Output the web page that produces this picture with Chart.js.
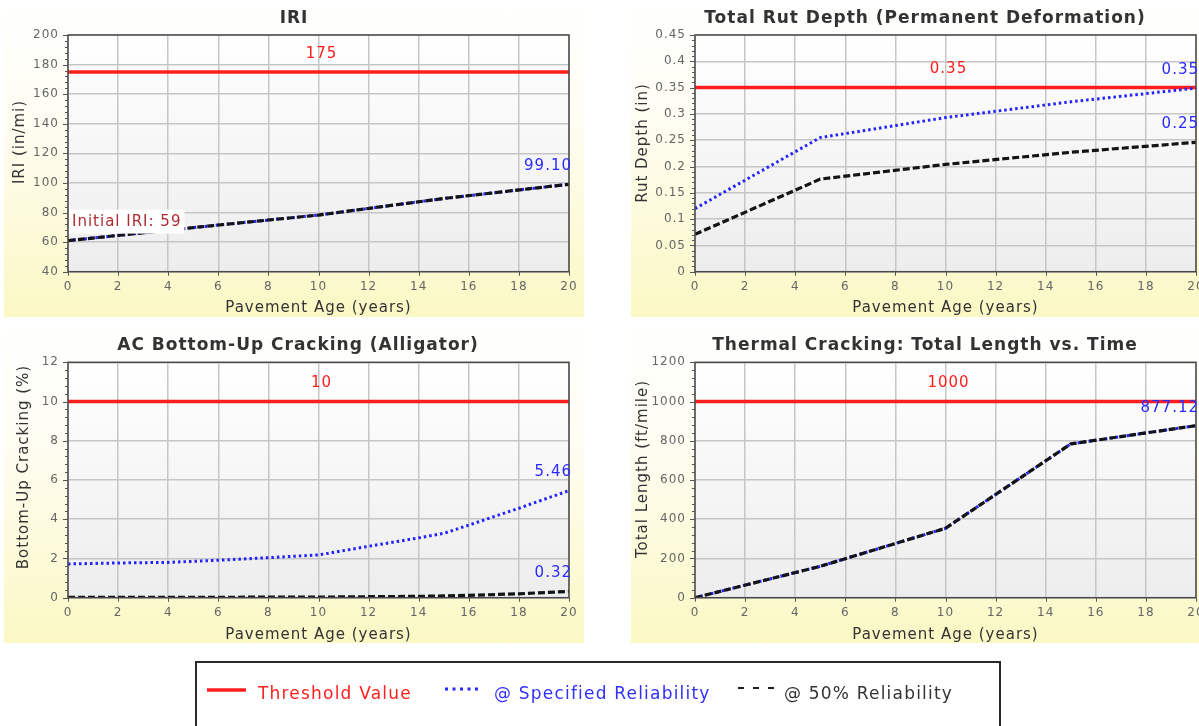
<!DOCTYPE html>
<html>
<head>
<meta charset="utf-8">
<script src="https://cdn.jsdelivr.net/npm/chart.js@4.4.1/dist/chart.umd.min.js"></script>
<style>
  html, body { margin: 0; padding: 0; background: #fff; }
  #page { position: relative; width: 1199px; height: 726px; overflow: hidden; background: #fff;
          font-family: 'DejaVu Sans', sans-serif; }
  .panel { position: absolute;
           background: linear-gradient(180deg, #ffffff 0%, #fefdf2 38%, #fbf8c4 100%); }
  canvas { position: absolute; }
  #legendBox { position: absolute; left: 195px; top: 661px; width: 806px; height: 80px;
               border: 2px solid #2a2a2a; background: #fff; box-sizing: border-box; }
  .lg { position: absolute; top: 682px; font-size: 17px; line-height: 22px;
        letter-spacing: 1.2px; white-space: nowrap; }
  #keys { position: absolute; left: 0; top: 0; }
</style>
</head>
<body>
<div id="page">
  <div class="panel" style="left:4px;top:0;width:580px;height:317px"></div>
  <div class="panel" style="left:631px;top:0;width:568px;height:317px"></div>
  <div class="panel" style="left:4px;top:322px;width:580px;height:321px"></div>
  <div class="panel" style="left:631px;top:322px;width:568px;height:321px"></div>

  <canvas id="cIri" width="595" height="320" style="left:0;top:0"></canvas>
  <canvas id="cRut" width="599" height="320" style="left:600px;top:0"></canvas>
  <canvas id="cAc" width="595" height="330" style="left:0;top:320px"></canvas>
  <canvas id="cTc" width="599" height="330" style="left:600px;top:320px"></canvas>

  <div id="legendBox"></div>
  <svg id="keys" width="1199" height="726">
    <line x1="207" y1="690" x2="246" y2="690" stroke="#ff1e1e" stroke-width="3.5"/>
    <line x1="445" y1="689" x2="481" y2="689" stroke="#2626ff" stroke-width="3" stroke-dasharray="3 4.5"/>
    <line x1="738" y1="688" x2="774" y2="688" stroke="#222" stroke-width="2" stroke-dasharray="6 9"/>
  </svg>
  <div class="lg" style="left:258px;color:#ff2020">Threshold Value</div>
  <div class="lg" style="left:494px;color:#3030ff">@ Specified Reliability</div>
  <div class="lg" style="left:784px;color:#333">@ 50% Reliability</div>
</div>

<script>
// ---- shared pavement-age axis ----
const ageTicks = [0, 2, 4, 6, 8, 10, 12, 14, 16, 18, 20];
const ageTickLabels = ['0', '2', '4', '6', '8', '10', '12', '14', '16', '18', '20'];

// ---- IRI ----
const iriYears = [0, 5, 10, 15, 20];
const iriSpecified = [61.0, 69.8, 78.3, 89.5, 99.10];
const iri50 = [61.0, 69.8, 78.3, 89.5, 99.10];
const iriThreshold = 175;
const iriInitial = 59;
const iriTicks = [40, 60, 80, 100, 120, 140, 160, 180, 200];
const iriTickLabels = ['40', '60', '80', '100', '120', '140', '160', '180', '200'];

// ---- Total rut depth ----
const rutYears = [0, 5, 10, 15, 20];
const rutSpecified = [0.120, 0.255, 0.293, 0.323, 0.349];
const rut50 = [0.071, 0.176, 0.204, 0.227, 0.246];
const rutThreshold = 0.35;
const rutTicks = [0, 0.05, 0.1, 0.15, 0.2, 0.25, 0.3, 0.35, 0.4, 0.45];
const rutTickLabels = ['0', '0.05', '0.1', '0.15', '0.2', '0.25', '0.3', '0.35', '0.4', '0.45'];

// ---- AC bottom-up (alligator) cracking ----
const acYears = [0, 2, 4, 6, 8, 10, 12, 14, 15, 16, 18, 20];
const acSpecified = [1.72, 1.77, 1.80, 1.91, 2.04, 2.18, 2.62, 3.05, 3.28, 3.70, 4.56, 5.46];
const ac50 = [0.02, 0.02, 0.02, 0.02, 0.03, 0.03, 0.05, 0.07, 0.09, 0.12, 0.20, 0.32];
const acThreshold = 10;
const acTicks = [0, 2, 4, 6, 8, 10, 12];
const acTickLabels = ['0', '2', '4', '6', '8', '10', '12'];

// ---- Thermal cracking total length ----
const tcYears = [0, 5, 10, 15, 20];
const tcSpecified = [0, 160, 354, 784, 877.12];
const tc50 = [0, 160, 354, 784, 877.12];
const tcThreshold = 1000;
const tcTicks = [0, 200, 400, 600, 800, 1000, 1200];
const tcTickLabels = ['0', '200', '400', '600', '800', '1000', '1200'];

Chart.defaults.font.family = "'DejaVu Sans', sans-serif";

function pairs(xs, ys) { return xs.map((x, i) => ({ x: x, y: ys[i] })); }

const LABEL_BLUE = '#2a2aff';
const LABEL_RED = '#ff1e1e';

// Panel decorations: plot background, frame, minor ticks, value labels, titles
function panelPlugin(spec) {
  return {
    id: 'panelDecor',
    beforeDraw(chart) {
      const ctx = chart.ctx, a = chart.chartArea;
      ctx.letterSpacing = '1px';
      const g = ctx.createLinearGradient(0, a.top, 0, a.bottom);
      g.addColorStop(0, '#ffffff');
      g.addColorStop(1, '#ededed');
      ctx.save();
      ctx.fillStyle = g;
      ctx.fillRect(a.left, a.top, a.right - a.left, a.bottom - a.top);
      ctx.restore();
    },
    afterDatasetsDraw(chart) {
      const ctx = chart.ctx, a = chart.chartArea;
      const xs = chart.scales.x, ys = chart.scales.y;
      ctx.save();
      // frame
      ctx.strokeStyle = '#4a4a4a';
      ctx.lineWidth = 1.5;
      ctx.strokeRect(a.left, a.top, a.right - a.left, a.bottom - a.top);
      // y ticks: five subdivisions per major step
      const t = spec.yTicks;
      const minor = (t[1] - t[0]) / 5;
      const n = Math.round((t[t.length - 1] - t[0]) / minor);
      ctx.lineWidth = 1;
      ctx.strokeStyle = '#555';
      ctx.beginPath();
      for (let k = 0; k <= n; k++) {
        const py = Math.round(ys.getPixelForValue(t[0] + k * minor)) + 0.5;
        ctx.moveTo(a.left - (k % 5 === 0 ? 5 : 3), py);
        ctx.lineTo(a.left, py);
      }
      ageTicks.forEach(v => {
        const px = Math.round(xs.getPixelForValue(v)) + 0.5;
        ctx.moveTo(px, a.bottom);
        ctx.lineTo(px, a.bottom + 4);
      });
      ctx.stroke();

      // value labels
      ctx.letterSpacing = '1px';
      ctx.font = "15px 'DejaVu Sans', sans-serif";
      ctx.textBaseline = 'middle';
      spec.labels.forEach(l => {
        const py = ys.getPixelForValue(l.y) - 18;
        ctx.fillStyle = l.color;
        if (l.atEnd) {
          ctx.textAlign = 'right';
          ctx.fillText(l.text, a.right + 3, py);
        } else {
          ctx.textAlign = 'center';
          ctx.fillText(l.text, xs.getPixelForValue(l.x) + 3, py);
        }
      });

      // initial value note on a white box
      if (spec.note) {
        const nt = spec.note;
        const left = xs.getPixelForValue(0) + 1;
        const cy = ys.getPixelForValue(nt.y) - 22;
        const w = ctx.measureText(nt.text).width;
        ctx.fillStyle = '#ffffff';
        ctx.fillRect(left, cy - 12, w + 6, 24);
        ctx.textAlign = 'left';
        ctx.fillStyle = '#b02a30';
        ctx.fillText(nt.text, left + 3, cy + 1);
      }
      ctx.restore();
    },
    afterDraw(chart) {
      const ctx = chart.ctx;
      ctx.save();
      ctx.letterSpacing = '1px';
      ctx.textAlign = 'center';
      ctx.textBaseline = 'middle';
      ctx.fillStyle = '#333';
      ctx.font = "bold 17px 'DejaVu Sans', sans-serif";
      ctx.fillText(spec.title, spec.titleAt[0], spec.titleAt[1]);
      ctx.font = "15px 'DejaVu Sans', sans-serif";
      ctx.translate(spec.yTitleAt[0], spec.yTitleAt[1]);
      ctx.rotate(-Math.PI / 2);
      ctx.fillText(spec.yTitle, 0, 0);
      ctx.restore();
    }
  };
}

function makeChart(canvasId, spec) {
  const cv = document.getElementById(canvasId);
  const W = cv.width, H = cv.height;
  const a = spec.area;
  const yt = spec.yTicks;
  return new Chart(cv, {
    type: 'line',
    data: {
      datasets: [
        { label: '@ 50% Reliability', data: pairs(spec.years, spec.fifty),
          borderColor: '#141414', borderWidth: 3.2, borderDash: [7, 3] },
        { label: '@ Specified Reliability', data: pairs(spec.years, spec.specified),
          borderColor: '#2222ff', borderWidth: 3, borderDash: [2.5, 3] },
        { label: 'Threshold Value', data: pairs([0, 20], [spec.threshold, spec.threshold]),
          borderColor: '#ff1e1e', borderWidth: 3.5 }
      ]
    },
    options: {
      responsive: false,
      animation: false,
      devicePixelRatio: 1,
      events: [],
      layout: { padding: { left: 0, top: a.top, right: W - a.right, bottom: 0 } },
      elements: { point: { radius: 0 }, line: { tension: 0, fill: false } },
      plugins: { legend: { display: false }, tooltip: { enabled: false }, title: { display: false } },
      scales: {
        x: {
          type: 'linear', min: 0, max: 20,
          afterBuildTicks: s => { s.ticks = ageTicks.map(v => ({ value: v })); },
          afterFit: s => { s.height = H - a.bottom; s.paddingLeft = 0; s.paddingRight = 0; },
          ticks: { autoSkip: false, maxRotation: 0, padding: 8, color: '#666',
                   font: { size: 12 }, callback: (v, i) => ageTickLabels[i] },
          grid: { color: '#c6c6c6', lineWidth: 1.5, drawTicks: false },
          border: { display: false },
          title: { display: true, text: 'Pavement Age (years)', color: '#333',
                   font: { size: 15 }, padding: { top: 0, bottom: spec.xTitlePad } }
        },
        y: {
          type: 'linear', min: yt[0], max: yt[yt.length - 1],
          afterBuildTicks: s => { s.ticks = yt.map(v => ({ value: v })); },
          afterFit: s => { s.width = a.left; s.paddingTop = 0; s.paddingBottom = 0; },
          ticks: { padding: 9, color: '#666', font: { size: 12 },
                   callback: (v, i) => spec.yTickLabels[i] },
          grid: { color: '#c6c6c6', lineWidth: 1.5, drawTicks: false },
          border: { display: false }
        }
      }
    },
    plugins: [panelPlugin(spec)]
  });
}

makeChart('cIri', {
  title: 'IRI', titleAt: [294, 18.5],
  yTitle: 'IRI (in/mi)', yTitleAt: [20, 142],
  area: { left: 68, right: 569, top: 35, bottom: 271.7 }, xTitlePad: 3,
  years: iriYears, specified: iriSpecified, fifty: iri50, threshold: iriThreshold,
  yTicks: iriTicks, yTickLabels: iriTickLabels,
  labels: [
    { text: String(iriThreshold), x: 10, y: iriThreshold, color: LABEL_RED },
    { text: iriSpecified[iriSpecified.length - 1].toFixed(2), atEnd: true,
      y: iriSpecified[iriSpecified.length - 1], color: LABEL_BLUE }
  ],
  note: { text: 'Initial IRI: ' + iriInitial, y: iriInitial }
});

makeChart('cRut', {
  title: 'Total Rut Depth (Permanent Deformation)', titleAt: [325, 18.5],
  yTitle: 'Rut Depth (in)', yTitleAt: [43, 143],
  area: { left: 95, right: 596, top: 35, bottom: 271.7 }, xTitlePad: 3,
  years: rutYears, specified: rutSpecified, fifty: rut50, threshold: rutThreshold,
  yTicks: rutTicks, yTickLabels: rutTickLabels,
  labels: [
    { text: String(rutThreshold), x: 10, y: rutThreshold, color: LABEL_RED },
    { text: rutSpecified[rutSpecified.length - 1].toFixed(2), atEnd: true,
      y: rutSpecified[rutSpecified.length - 1], color: LABEL_BLUE },
    { text: rut50[rut50.length - 1].toFixed(2), atEnd: true,
      y: rut50[rut50.length - 1], color: LABEL_BLUE }
  ]
});

makeChart('cAc', {
  title: 'AC Bottom-Up Cracking (Alligator)', titleAt: [298, 25.5],
  yTitle: 'Bottom-Up Cracking (%)', yTitleAt: [24, 147],
  area: { left: 68, right: 569, top: 42.3, bottom: 277.7 }, xTitlePad: 6,
  years: acYears, specified: acSpecified, fifty: ac50, threshold: acThreshold,
  yTicks: acTicks, yTickLabels: acTickLabels,
  labels: [
    { text: String(acThreshold), x: 10, y: acThreshold, color: LABEL_RED },
    { text: acSpecified[acSpecified.length - 1].toFixed(2), atEnd: true,
      y: acSpecified[acSpecified.length - 1], color: LABEL_BLUE },
    { text: ac50[ac50.length - 1].toFixed(2), atEnd: true,
      y: ac50[ac50.length - 1], color: LABEL_BLUE }
  ]
});

makeChart('cTc', {
  title: 'Thermal Cracking: Total Length vs. Time', titleAt: [325, 25.5],
  yTitle: 'Total Length (ft/mile)', yTitleAt: [43, 149],
  area: { left: 95, right: 596, top: 42.3, bottom: 277.7 }, xTitlePad: 6,
  years: tcYears, specified: tcSpecified, fifty: tc50, threshold: tcThreshold,
  yTicks: tcTicks, yTickLabels: tcTickLabels,
  labels: [
    { text: String(tcThreshold), x: 10, y: tcThreshold, color: LABEL_RED },
    { text: tcSpecified[tcSpecified.length - 1].toFixed(2), atEnd: true,
      y: tcSpecified[tcSpecified.length - 1], color: LABEL_BLUE }
  ]
});
</script>
</body>
</html>
